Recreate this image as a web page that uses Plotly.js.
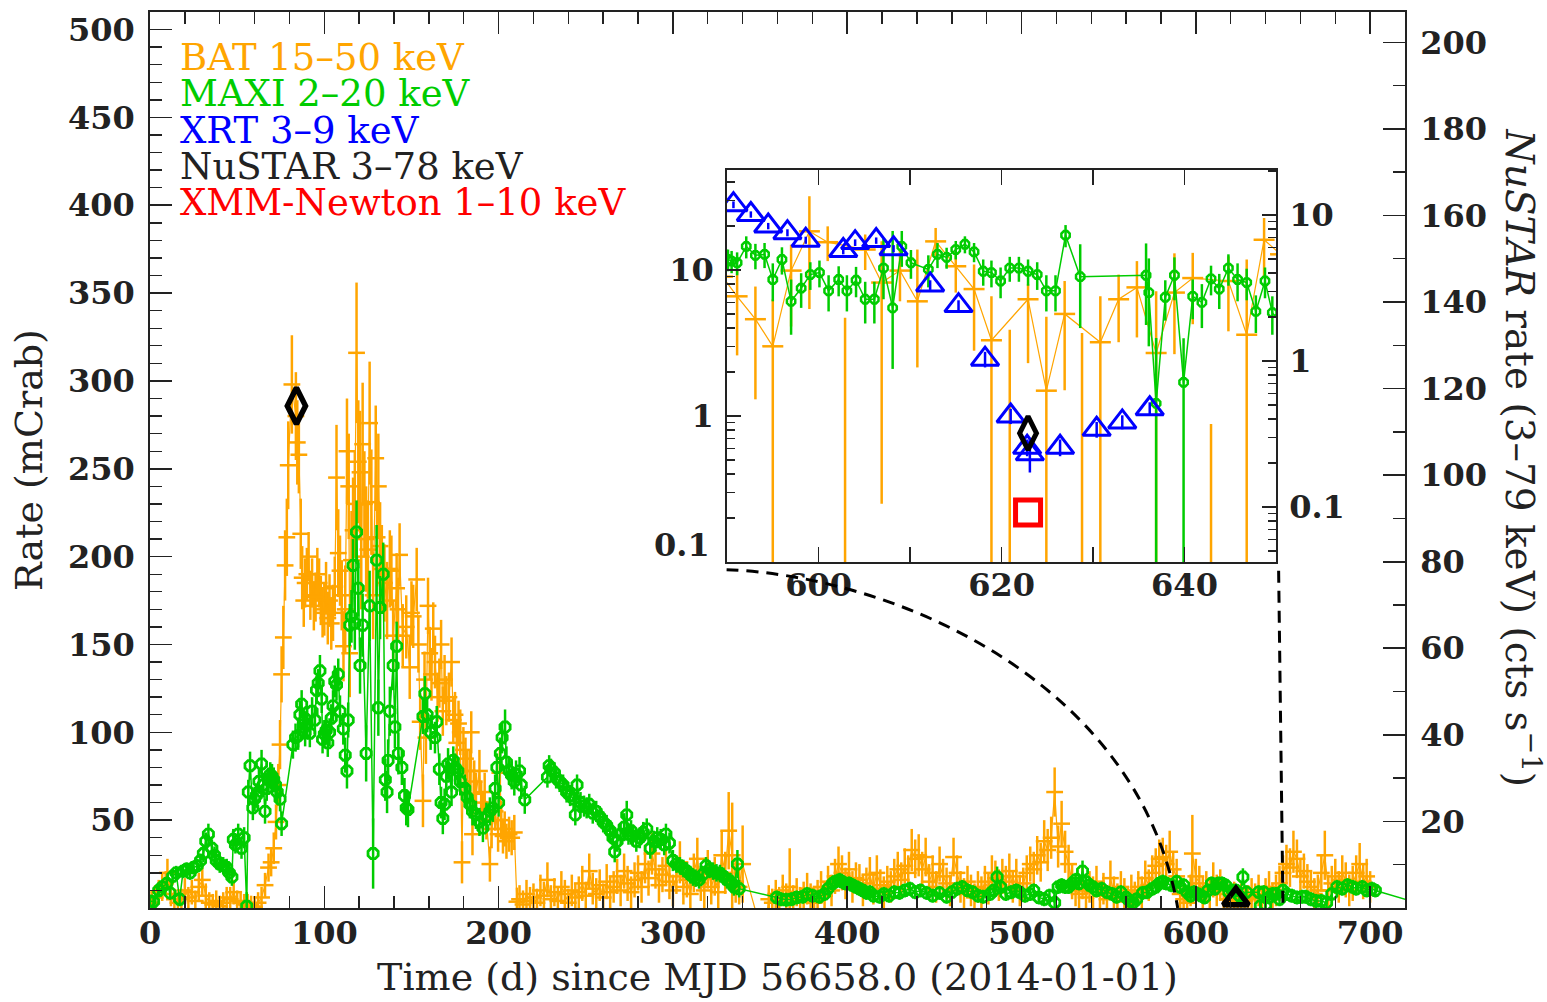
<!DOCTYPE html>
<html>
<head>
<meta charset="utf-8">
<script src="https://cdn.plot.ly/plotly-3.0.1.min.js"></script>
<style>
html,body{margin:0;padding:0;background:#fff;}
#chart{width:1547px;height:1002px;}
</style>
</head>
<body>
<div id="chart"></div>
<script>
// ---------------- DATA (main panel) ----------------
// BAT 15-50 keV, main panel: [day, mCrab, error]
const batQuiet = [[1,3,6],[3,6,7],[5,9,7],[7,12,8],[9,14,7],[10,20,8],[12,8,7],[14,5,6],[16,3,6],[18,5,6],[20,10,7],[22,6,6],[24,9,7],[26,4,6],[28,12,8],[30,16,9],[32,7,7],[34,3,6],[36,2,6],[38,4,6],[40,1,6],[42,3,6],[44,6,6],[46,5,7],[48,9,7],[50,4,6],[52,3,6],[54,2,6],[56,2,6],[58,1,6],[60,0.7,6],[62,3,6]];
const batRise = [[64,6,6],[66,13,7],[68,23,8],[69.5,26,8],[71,34,9],[72.3,49,10],[73.6,70,12],[74.6,93,14],[75.5,133,16],[76.5,154,18],[77.5,195,20],[78.5,211,22],[79.3,252,25],[81.4,298,28],[83.7,280,25],[84.5,265,24],[85.4,258,22],[86.5,213,20],[87.3,188,18],[88.2,175,15],[89,185,14],[90,190,15]];
const batFlare = [[91,200,14],[92,178,14],[93,185,14],[94,172,14],[95,177,14],[96,190,15],[97,185,14],[98,175,14],[99,168,14],[100,170,15],[101,182,15],[102,165,15],[103,175,15],[104,162,15],[105,168,16],[106,183,17],[107,245,30],[108,202,25],[109,192,20],[110,178,20],[111,149,20],[112,170,25],[113,260,30],[114,240,30],[114.6,145,25],[115.6,198,28],[116.5,215,30],[117.5,230,30],[118.5,316,40],[119.5,254,35],[120.5,248,35],[121.2,200,30],[122,264,35],[123,230,30],[124,210,30],[125,204,28],[126,276,35],[127,231,30],[128,178,25],[129.5,256,30],[130.3,211,28],[131,240,30],[132,206,25],[133,193,25],[134.5,185,22],[136,175,22],[137.6,193,22],[138.5,192,20],[139.5,155,20],[141.5,182,20],[142.3,170,18],[143.2,201,18],[145,155,18],[147,160,18],[149,137,18],[150,168,18],[151,166,18],[153,187,18],[154,150,16],[155,106,16],[156.6,61,15],[157.5,130,16],[158.3,97,15],[159.5,172,16],[160.5,145,15],[161.5,133,15],[162.5,159,15],[163.5,140,15],[165,120,14],[166,128,14],[167,150,14],[168,112,14],[169,130,14],[170,118,14],[171.5,120,14],[173,140,14],[174,107,13],[175,110,13],[176,94,13],[177,105,13],[178,100,13],[179,26,12],[179.8,90,13],[181,85,12],[182,78,12],[183.5,78,12],[184.3,100,12],[185,42,12],[186,72,12],[187,65,12],[189,78,12],[190,60,12],[191,55,11],[192,66,11],[193,50,11],[195,25,10],[196,45,11],[198,55,11],[199.7,42,10],[200.7,77,14],[201.5,50,11],[202.5,41,10],[203.5,45,10],[204.5,38,10],[206,42,10],[207.5,40,10],[209,43,10]];
const batLow1 = [[210.5,3.6,8],[212,5,8],[214,2,8],[216,8,8],[218,4,8],[220,6,8],[222,3,8],[224,10,9],[226,7,8],[228,16,10],[230,5,8],[232,9,8],[234,4,8],[236,12,9],[238,8,8],[240,3,8],[242,10,9],[244,6,8],[246,9,9],[248,14,10],[250,7,8],[252,21,10],[254,11,9],[256,8,9],[258,13,9],[260,6,8],[262,15,10],[264,9,9],[266,12,9],[268,18,10],[270,10,9],[272,21,10],[274,14,10],[276,9,9],[278,16,10],[280,20,10],[282,12,9],[284,25,11],[286,17,10],[288,31,12],[290,22,11],[292,13,10],[294,19,10],[296,24,11],[298,15,10],[300,10,9],[302,18,10],[304,26,12],[306,12,10],[308,16,10],[310,8,9],[312,20,11],[314,28,12],[316,14,10],[318,10,10],[320,22,11],[322,12,10],[324,18,11],[326,9,10],[328,30,14],[330,20,12],[332,44,22],[334,30,30],[336,15,12],[338,12,10],[340,25,22],[352,-18,10]];
const batLow2 = [[355,5,8],[357,3,8],[359,8,8],[361,4,8],[363,10,9],[365,6,8],[367,12,22],[369,5,8],[371,9,8],[373,4,8],[375,7,8],[377,11,9],[379,6,8],[381,3,8],[383,8,8],[385,12,9],[387,7,8],[389,15,9],[391,10,9],[393,18,10],[395,25,10],[397,20,10],[399,14,9],[401,22,10],[403,12,9],[405,17,9],[407,16,9],[409,10,9],[411,14,9],[413,19,10],[415,11,9],[417,20,10],[419,13,9],[421,9,9],[423,15,9],[425,12,9],[427,18,10],[429,22,10],[431,16,10],[433,24,10],[435,20,10],[437,33,12],[439,28,11],[441,30,12],[443,22,10],[445,29,11],[447,15,10],[449,20,10],[451,12,9],[453,25,10],[455,18,10],[457,14,9],[459,10,9],[461,29,11],[463,20,10],[465,12,9],[467,8,9],[469,15,9],[471,10,9],[473,6,8],[475,12,9],[477,9,9],[479,15,9],[481,11,9],[483,20,10],[485,17,10],[487,13,9],[489,18,10],[491,15,9],[493,21,10],[495,12,9],[497,18,10],[499,10,9],[501,14,9],[503,20,10],[505,25,10],[507,22,10],[509,30,11],[511,26,11],[513,38,12],[515,33,12],[517,40,12],[519,66,14],[521,35,12],[523,48,13],[525,32,12],[527,25,11],[529,15,10],[531,10,9],[533,8,9],[535,14,9],[537,6,8],[539,12,9],[541,9,9],[543,15,9],[545,7,8],[547,11,9],[549,5,8],[551,17,10],[553,9,9],[555,6,8],[557,12,9],[559,8,9],[561,4,8],[563,10,9],[565,7,8],[567,12,9],[569,9,9],[571,17,10],[573,13,9],[575,20,10],[577,24,10],[579,28,11],[581,29,11],[583,25,11],[585,32,12],[587,22,10],[589,18,10]];
const batLow3 = [[591,8,9],[593,5,8],[595,3,8],[597,10,9],[598,31,22],[600,18,10],[602,14,10],[604,9,9],[606,12,9],[608,8,9],[610,16,10],[612,10,9],[614,13,9],[616,8,9],[618,5,8],[620,4,8],[622,7,8],[624,3,8],[626,6,8],[628,4,8],[630,5,8],[632,8,9],[634,6,8],[636,10,9],[638,4,8],[640,8,9],[642,12,9],[644,6,8],[646,10,9],[648,14,10],[650,20,10],[652,25,11],[654,23,11],[656,32,12],[658,28,11],[660,18,10],[662,21,10],[664,15,10],[666,12,9],[668,8,9],[670,10,9],[672,20,10],[674,30,14],[676,10,9],[678,14,10],[680,18,10],[682,12,9],[684,20,10],[686,16,10],[688,10,9],[690,14,10],[692,20,10],[694,25,12],[696,15,10],[698,18,10],[700,12,9]];

// MAXI 2-20 keV, main panel: [day, mCrab, error]
const maxiRise = [[0,4,3],[2,3.6,3],[5,10,4],[7,12,4],[9.6,14,4],[11.5,8.6,4],[13,18,4],[15,20,4],[17,5,4],[19,21,4],[21,22,4],[23,20,4],[25,23,4],[27,24,4],[29,27,4],[30.6,31,5],[32,38,5],[33.5,42,6],[35.5,34,5],[37,30,5],[38,27,5],[40,25,5],[42,24,5],[44,23,5],[45.5,20,5],[47,17.6,5],[47.8,39,6],[49,36,5],[50.6,42,6],[52.5,34,6],[54,40,6],[55.5,1,8],[56.4,66,7],[57.4,81,8],[59,57,7],[60,62,7],[61,64,7],[62.5,72,7],[64,82,8],[65,70,7],[66,55,7],[67,68,7],[68,73,7],[69,76,7],[70,75,7],[71,73,7],[72,70,7],[73,66,7],[74.6,62,7],[75.5,48,7]];
const maxiFlare = [[82,93,8],[83.5,97,8],[85,98,8],[86,110,8],[87,116,8],[88,106,8],[89,100,8],[90,104,8],[91.7,99.5,8],[93,112,8],[94.6,107,8],[95.5,124,8],[96.5,128,8],[97.5,135,9],[98.5,119,8],[99,96,8],[100,99,8],[101,101,8],[102,94,8],[103,100,8],[104,108,8],[105,115,9],[106,129,9],[107,127,9],[108,133,9],[109,112,9],[110.9,102,9],[112,87,10],[113,78,10],[113.7,107,10],[114.6,161,12],[115.6,166,15],[116.5,195,15],[117.5,162,15],[118.5,214,18],[119.5,182,16],[120.5,138,16],[122,161,18],[124,88,16],[126,172,20],[128,31,20],[130,198,20],[131,114,16],[132,171,18],[133.8,190,18],[135,73,12],[136,66,12],[136.6,84,12],[137.6,112,14],[139.5,138,14],[140.5,103,12],[141.5,149,14],[142.5,88,12],[144.5,80,10],[146,64,10],[147,57,10],[148,56,10],[156.6,109,10],[157.7,122,10],[159,110,10],[161,100,10],[163.5,97,9],[164.5,106,9],[166,79,9],[167,60,9],[168,51,9],[169,59,9],[170,75,9],[171,82,9],[173,66,8],[174,84,8],[175,80,8],[176.6,78,8],[178,72,8],[180.6,68,8],[182,63,8],[183.5,59,8],[185,55,8],[187,53,8],[189,49,8],[191,45.5,8],[193,52,8],[195,55,8],[196.7,57,8],[198,68,8],[199,80,8],[200,60,8],[201,88,9],[202,97,9],[203.7,103,10],[204.5,83,9],[206,78,8],[207.5,75.5,8],[209,72,8],[210,76,8],[212,78,8],[213,70,8],[215,61.6,8]];
const maxiDecay = [[228,74.5,6],[229,81,6],[230,79,6],[232,77,6],[233,74,6],[235,72,6],[237,70,6],[239,66,6],[241,64,6],[243,62,6],[244,53,6],[245,70,6],[247,60,6],[249,58,6],[250.5,57,6],[252,59,6],[254,54,6],[256,55,6],[258,52,6],[260,49,6],[262,47,6],[264,44,6],[265.6,40,6],[266.6,32,6],[268,38,6],[270,42,6],[272,46,8],[273.5,53,8],[274.5,42,6],[276,44,6],[277,41,6],[279,38,6],[281,40,6],[283,43,6],[285,45,6],[287,34,6],[289,38,6],[291,40,6],[293,39,6],[295,36,6],[296,42,6],[298,37,6],[300,27,6],[302,25,5],[304,24,5],[306,22.5,5],[308,21,5],[310,19,5],[311.5,17.6,5],[313,17,5],[315,16,5],[317,19,5],[319,24,5],[321,22,5],[323,21,5],[325,20,5],[327,19.6,5],[329,18,5],[331,16,5],[333,15,5],[334,14,5],[335,12,5],[337,25,8],[338,11,5]];
const maxiLow = [[359.5,6,4],[362,5,4],[365,4.7,4],[368,5,4],[371,6,4],[374.5,6.4,4],[377,8,4],[380,7,4],[384,6.4,4],[387,8,4],[389,11,4],[391.6,14,4],[393,15,4],[395.6,16,4],[397,15,4],[399,14,4],[401,14,4],[403,13,4],[405,12,4],[407,11,4],[409,10,4],[411,8.6,4],[413,9,4],[415,7,4],[418.6,6.4,4],[421,8,4],[424,7,4],[427,9,4],[430,8.6,4],[433,10,4],[436,11,4],[439,9,4],[442,10,4],[445.5,8.6,4],[449,7,4],[453,8.6,4],[457,6.4,4],[460,9,4],[463,11,4],[466,12,4],[469,10,4],[472,9,4],[475,7,4],[478,6.4,4],[482,8,4],[484,10,4],[486,17.6,6],[488,12,4],[491,8,4],[494,9,4],[497,10,4],[499,9,4],[502,7,4],[505,8,4],[507,10,4],[510,6,4],[513,5,4],[516,7,4],[519,3,4],[521,12,4],[523,13,4],[525,12,4],[527,12,4],[529,14,4],[531,16,4],[533,14,4],[535,21,6],[537,15,4],[539,13,4],[541,12,4],[543,10,4],[546,11,4],[549,9,4],[552,8,4],[554.5,6.4,4],[557,9,4],[560,6,4],[562,4,4],[564,3,4],[566,5,4],[569.5,8.6,4],[572,9,4],[575,11,4],[577,12,4],[579,14,4],[581,15,4],[583,14,4],[586,13,4],[589,15,4],[591,12,4],[593,13,4],[595,9,4],[597,7,4],[599,9,4],[601,8,4],[603,7,4],[605,6,4],[607,10,4],[609,14,4],[611,11,4],[613,14,4],[615,14,4],[617,13,4],[619,9,4],[621,10,4],[623,10,4],[625,7,4],[627,17.6,5],[629,9,4],[636,9,4],[637,1.2,4],[639,9,4],[640,1.7,4],[642,6,4],[644,8,4],[646,8,4],[648,5,4],[650,10,4],[652,8,4],[655,7,4],[658,6,4],[661,6.4,4],[663,6.4,4],[666,5,4],[669,4,4],[672,4,4],[675,3,4],[678,8,4],[681,12,4],[684,11,4],[687,13,4],[690,12,4],[692,11,4],[695.5,12,4],[698,10,4],[701,11,4],[703,10,4],[730,2,4]];

// NuSTAR 3-78 keV (right axis, cts/s)
const nuDays = [84, 623];
const nuRate = [116, 2];

// ---------------- DATA (inset, log scale) ----------------
// BAT inset: [day, mCrab, err+, err-]
const batInset = [[589.5,9,3,3],[591.1,6.6,3.5,4.0],[593.1,4.6,3.1,3.3],[595.0,3.0,3.3,3.0],[597.0,9.9,5,5.8],[599.0,18.4,13.6,13],[601.0,15.5,4.4,4],[605.1,13.8,3.7,3.8],[606.9,8.2,7.5,7.95],[608.9,9.9,3.9,3.8],[610.8,6.1,7.7,3.95],[612.8,15.7,3.7,3.3],[615.0,10.6,3.2,3.6],[617.0,7.4,3.5,4.6],[618.9,3.3,3.3,3.3],[622.9,6.3,1.7,4.0],[624.9,1.49,3.3,1.49],[626.9,5.0,3.4,3.5],[630.8,3.2,3.4,3.2],[632.8,6.3,3,3.1],[634.8,7.6,3.9,4.15],[636.9,2.7,4.45,2.7],[638.9,7.0,6,4.35],[640.9,8.8,4.3,4.55],[644.8,8.4,4,4.6],[646.8,3.6,8.2,3.6],[648.7,16.1,6.6,7.2],[650.5,12.8,3,3]];
// BAT inset bins with no positive rate (only upper bar visible): [day, rate, err+]
const batInsetLow = [[602.9,0.02,4.68],[620.9,0.02,3.88],[628.8,0.02,3.68],[642.9,0.02,0.86]];
// MAXI inset: [day, mCrab, err+, err-]
const maxiInset = [[589.6,13,2,2],[590.1,11.8,2,2],[590.5,11.5,2,2],[591.1,11.2,2,2],[592.1,14.5,2.5,2.5],[593.1,12.6,2.5,2.5],[594.1,12.8,2.5,2.5],[595,8.6,2.5,2.5],[596,11.8,2.5,2.5],[597,6.1,2.5,2.5],[598.1,7.5,2,2],[599.1,9.3,2,2],[600.1,9.6,2,2],[601.1,7.2,2,2],[602.2,8.6,2,2],[603.1,7.2,2,2],[604.1,8.5,2,2],[605.1,6.3,2,2],[606.1,6.3,2,2],[607.1,10.3,6,4],[608.1,5.5,13,3.4],[609.1,14.5,4,4],[610.1,11.2,2.5,2.5],[612,10.1,2.5,2.5],[613,12.8,2.5,2.5],[614,12.2,2,2],[615,13.8,2,2],[616,15,2,2],[617,13.3,2,2],[618,9.8,2,2],[618.9,9.6,2,2],[619.9,8.4,2,2],[620.9,10.3,2,2],[621.9,10.3,2,2],[622.9,9.8,2,2],[623.9,9.3,2,2],[624.9,7.2,2,2],[625.9,7.2,2,2],[627,17.3,3,3],[628.6,9.0,6,5],[635.8,9.2,6,5],[636.1,7.0,5,4],[636.9,1.22,2.2,1.22],[637.9,6.5,2,2],[638.9,9.2,3,3],[639.9,1.7,1.7,1.7],[640.9,6.6,2,2],[641.9,6.0,2,2],[642.9,8.7,2,2],[643.8,7.4,2,2],[644.8,10.3,2.5,2.5],[645.8,8.6,2.5,2.5],[646.8,8.2,2,2],[647.8,5.2,1.5,1.5],[648.8,8.4,2,2],[649.6,5.1,1.5,1.5],[651,4,1,1]];
// Swift/XRT 3-9 keV inset: [day, mCrab, err]
const xrtInset = [[590.7,28,1.5],[592.6,24,1.2],[594.5,20,1.0],[596.6,18,1.0],[598.6,16,0.9],[602.7,13.6,0.8],[604.0,15.4,0.8],[606.3,15.9,0.8],[608.2,14,0.8],[612.2,7.9,0.6],[615.3,5.7,0.5],[618.2,2.45,0.3],[621.0,1.0,0.12],[622.8,0.61,0.08],[623.1,0.55,0.14],[626.4,0.61,0.08],[630.4,0.81,0.1],[633.2,0.91,0.1],[636.2,1.12,0.12]];
// NuSTAR inset (cts/s, right axis) and XMM-Newton (mCrab)
const nuInsetDay = [622.9];
const nuInsetRate = [0.32];
const xmmDay = [622.9];
const xmmRate = [0.218];

// Legend entries
const legendLabels = ['BAT 15–50 keV','MAXI 2–20 keV','XRT 3–9 keV','NuSTAR 3–78 keV','XMM-Newton 1–10 keV'];
const legendColors = ['#ffa500','#00cc00','#0000ff','#222222','#ff0000'];

// ---------------- BUILD ----------------
const ORANGE = '#ffa500', GREEN = '#00cc00', BLUE = '#0000ff', RED = '#ff0000', INK = '#222222';
const col = (arr, i) => arr.map(r => r[i]);
const batMain = [].concat(batQuiet, batRise, batFlare, batLow1, batLow2, batLow3);
const maxiMain = [].concat(maxiRise, maxiFlare, maxiDecay, maxiLow);

const traces = [];
traces.push({
  x: col(batMain,0), y: col(batMain,1), xaxis:'x', yaxis:'y', type:'scatter', mode:'lines+markers',
  line:{color:ORANGE, width:1.2},
  marker:{symbol:'line-ew-open', size:12, color:ORANGE, line:{color:ORANGE, width:2.5}},
  error_y:{type:'data', array:col(batMain,2), color:ORANGE, thickness:2.5, width:0},
  hoverinfo:'skip'
});
traces.push({
  x: col(maxiMain,0), y: col(maxiMain,1), xaxis:'x', yaxis:'y', type:'scatter', mode:'lines+markers',
  line:{color:GREEN, width:1.5},
  marker:{symbol:'octagon-open', size:11, color:GREEN, line:{color:GREEN, width:2.8}},
  error_y:{type:'data', array:col(maxiMain,2), color:GREEN, thickness:2.5, width:0},
  hoverinfo:'skip'
});
traces.push({
  x: nuDays, y: nuRate, xaxis:'x', yaxis:'y3', type:'scatter', mode:'markers', cliponaxis:false,
  marker:{symbol:['diamond-tall-open','triangle-up-open'], size:[26,22], color:'#000000', opacity:1, line:{color:'#000000', width:5.5}},
  hoverinfo:'skip'
});
// inset
traces.push({
  x: col(batInset,0), y: col(batInset,1), xaxis:'x2', yaxis:'y2', type:'scatter', mode:'lines+markers',
  line:{color:ORANGE, width:1.2},
  marker:{symbol:'line-ew-open', size:15, color:ORANGE, line:{color:ORANGE, width:2.5}},
  error_y:{type:'data', symmetric:false, array:col(batInset,2), arrayminus:col(batInset,3), color:ORANGE, thickness:2.5, width:0},
  hoverinfo:'skip'
});
traces.push({
  x: col(batInsetLow,0), y: col(batInsetLow,1), xaxis:'x2', yaxis:'y2', type:'scatter', mode:'markers',
  marker:{size:1, color:'rgba(0,0,0,0)'},
  error_y:{type:'data', symmetric:false, array:col(batInsetLow,2), arrayminus:col(batInsetLow,1).map(v=>v*0.5), color:ORANGE, thickness:2.5, width:0},
  hoverinfo:'skip'
});
traces.push({
  x: col(maxiInset,0), y: col(maxiInset,1), xaxis:'x2', yaxis:'y2', type:'scatter', mode:'lines+markers',
  line:{color:GREEN, width:1.5},
  marker:{symbol:'octagon-open', size:9, color:GREEN, line:{color:GREEN, width:2.5}},
  error_y:{type:'data', symmetric:false, array:col(maxiInset,2), arrayminus:col(maxiInset,3), color:GREEN, thickness:2.5, width:0},
  hoverinfo:'skip'
});
traces.push({
  x: col(xrtInset,0), y: col(xrtInset,1), xaxis:'x2', yaxis:'y2', type:'scatter', mode:'markers',
  marker:{symbol:'triangle-up-open', size:24, color:BLUE, line:{color:BLUE, width:3}},
  error_y:{type:'data', array:col(xrtInset,2), color:BLUE, thickness:2.5, width:0},
  hoverinfo:'skip'
});
traces.push({
  x: xmmDay, y: xmmRate, xaxis:'x2', yaxis:'y2', type:'scatter', mode:'markers',
  marker:{symbol:'square-open', size:25, color:RED, line:{color:RED, width:5}},
  hoverinfo:'skip'
});
traces.push({
  x: nuInsetDay, y: nuInsetRate, xaxis:'x2', yaxis:'y4', type:'scatter', mode:'markers',
  marker:{symbol:'diamond-tall-open', size:24, color:'#000', line:{color:'#000', width:5}},
  hoverinfo:'skip'
});

const tickFont = {family:'DejaVu Serif', size:32, color:INK, weight:'bold'};
const titleFont = {family:'DejaVu Serif', size:38, color:INK};
const axBase = {ticks:'inside', tickcolor:INK, tickwidth:1.6, showline:true, linecolor:INK, linewidth:1.8,
  showgrid:false, zeroline:false, tickfont:tickFont, fixedrange:true};

const decadeMinor = [0.02,0.03,0.04,0.05,0.06,0.07,0.08,0.09,0.2,0.3,0.4,0.5,0.6,0.7,0.8,0.9,2,3,4,5,6,7,8,9,20,30,40];

const layout = {
  width:1547, height:1002,
  margin:{l:150, r:142, t:12, b:94},
  paper_bgcolor:'#ffffff', plot_bgcolor:'#ffffff',
  showlegend:false,
  xaxis: Object.assign({}, axBase, {
    domain:[0,1], anchor:'y', range:[0,720], tickmode:'linear', tick0:0, dtick:100, ticklen:22, mirror:'ticks', ticklabelstandoff:-4,
    minor:{tickmode:'linear', tick0:0, dtick:20, ticks:'inside', ticklen:12, tickcolor:INK, tickwidth:1.4},
    title:{text:'Time (d) since MJD 56658.0 (2014-01-01)', font:titleFont, standoff:12}
  }),
  yaxis: Object.assign({}, axBase, {
    domain:[0,1], anchor:'x', range:[0,510], tickmode:'array', tickvals:[50,100,150,200,250,300,350,400,450,500], ticklen:22, ticklabelstandoff:7,
    minor:{tickmode:'linear', tick0:0, dtick:10, ticks:'inside', ticklen:12, tickcolor:INK, tickwidth:1.4},
    title:{text:'Rate (mCrab)', font:titleFont, standoff:14}
  }),
  yaxis3: Object.assign({}, axBase, {
    overlaying:'y', side:'right', anchor:'x', range:[0,207], tickmode:'array', tickvals:[20,40,60,80,100,120,140,160,180,200], ticklen:22, ticklabelstandoff:7,
    minor:{tickmode:'linear', tick0:0, dtick:10, ticks:'inside', ticklen:12, tickcolor:INK, tickwidth:1.4}
  }),
  xaxis2: Object.assign({}, axBase, {
    domain:[0.4598,0.8972], anchor:'y2', range:[590,650], tickmode:'array',
    tickvals:[600,620,640], ticklen:15, mirror:'ticks', ticklabelstandoff:-6,
    minor:{tickmode:'array', tickvals:[610,630], ticks:'inside', ticklen:15, tickcolor:INK, tickwidth:1.4}
  }),
  yaxis2: Object.assign({}, axBase, {
    domain:[0.3862,0.8237], anchor:'x2', type:'log', range:[-1,1.685], tickmode:'array',
    tickvals:[1,10], ticktext:['1','10'], ticklen:14, ticklabelstandoff:5,
    minor:{tickmode:'array', tickvals:decadeMinor, ticks:'inside', ticklen:8, tickcolor:INK, tickwidth:1.4}
  }),
  yaxis4: Object.assign({}, axBase, {
    overlaying:'y2', side:'right', anchor:'x2', type:'log', range:[-1.377,1.308], tickmode:'array',
    tickvals:[0.1,1,10], ticktext:['0.1','1','10'], ticklen:14, ticklabelstandoff:5,
    minor:{tickmode:'array', tickvals:decadeMinor, ticks:'inside', ticklen:8, tickcolor:INK, tickwidth:1.4}
  }),
  shapes:[
    {type:'path', xref:'x', yref:'y', path:'M 330.8 192.6 C 430 188.7, 567.7 127.4, 589.6 0',
     line:{color:'#000', width:3, dash:'12px,8px'}, layer:'above'},
    {type:'line', xref:'x', yref:'y', x0:647.5, y0:192, x1:650, y1:0,
     line:{color:'#000', width:3, dash:'12px,8px'}, layer:'above'}
  ],
  annotations: legendLabels.map((t,i) => ({
    text:t, xref:'paper', yref:'paper', x:0.0225, y:0.9487 - i*0.0402, xanchor:'left', yanchor:'middle',
    showarrow:false, font:{family:'DejaVu Serif', size:37, color:legendColors[i]}
  })).concat([{
    text:'<i>NuSTAR</i> rate (3–79 keV) (cts s<sup>−1</sup>)', xref:'paper', yref:'paper', x:1.093, y:0.503,
    xanchor:'center', yanchor:'middle', textangle:90, showarrow:false, font:{family:'DejaVu Serif', size:39, color:INK}
  }, {
    // bottom label of the inset's left log axis, raised above the corner as in the original
    text:'0.1', xref:'paper', yref:'paper', x:0.4482, y:0.4051, xanchor:'right', yanchor:'middle',
    showarrow:false, font:tickFont
  }])
};

Plotly.newPlot('chart', traces, layout, {staticPlot:true, displayModeBar:false});
</script>
</body>
</html>
